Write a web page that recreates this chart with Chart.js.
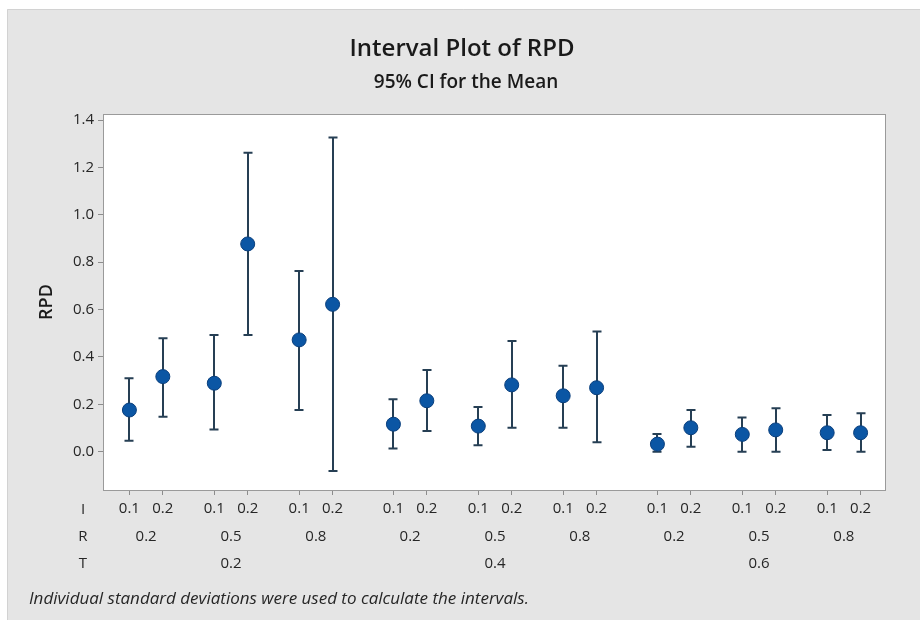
<!DOCTYPE html>
<html>
<head>
<meta charset="utf-8">
<script src="https://cdn.jsdelivr.net/npm/chart.js@4"></script>
<style>
  body { margin: 0; background: #fff; }
  canvas { display: block; }
</style>
</head>
<body>
<canvas id="chart" width="920" height="620"></canvas>
<script>
// factor levels
const tLevels = ['0.2', '0.4', '0.6'];
const rLevels = ['0.2', '0.5', '0.8'];
const iLevels = ['0.1', '0.2'];

// RPD means and 95% CI bounds, in T / R / I order
const means = [0.176, 0.317, 0.289, 0.877, 0.472, 0.622,
               0.116, 0.215, 0.108, 0.282, 0.236, 0.270,
               0.032, 0.101, 0.073, 0.092, 0.080, 0.080];
const lower = [0.046, 0.148, 0.094, 0.493, 0.176, -0.081,
               0.014, 0.087, 0.027, 0.101, 0.101, 0.040,
               0.000, 0.021, 0.000, 0.000, 0.007, 0.000];
const upper = [0.310, 0.479, 0.493, 1.262, 0.763, 1.326,
               0.221, 0.345, 0.189, 0.467, 0.363, 0.507,
               0.075, 0.176, 0.144, 0.183, 0.155, 0.162];

const yTicks = [0, 0.2, 0.4, 0.6, 0.8, 1.0, 1.2, 1.4];

// spacing of the nested groups on the x axis
const GROUP_STEP = 7.9;
const PAIR_STEP = 2.54;
const xPos = [];
tLevels.forEach((t, g) => rLevels.forEach((r, j) => iLevels.forEach((i, k) => {
  xPos.push(g * GROUP_STEP + j * PAIR_STEP + k);
})));

const FONT = '"Open Sans", "Noto Sans", sans-serif';
const TEXT = '#262626';

const frame = {
  id: 'frame',
  beforeDraw(chart) {
    const { ctx, chartArea: a } = chart;
    ctx.save();
    ctx.fillStyle = '#ffffff';
    ctx.fillRect(0, 0, chart.width, chart.height);
    ctx.fillStyle = '#e5e5e5';
    ctx.fillRect(7, 9, chart.width - 7, chart.height - 9);
    ctx.strokeStyle = '#d2d2d2';
    ctx.lineWidth = 1;
    ctx.beginPath();
    ctx.moveTo(7.5, chart.height);
    ctx.lineTo(7.5, 9.5);
    ctx.lineTo(chart.width, 9.5);
    ctx.stroke();
    ctx.fillStyle = '#ffffff';
    ctx.fillRect(a.left, a.top, a.right - a.left, a.bottom - a.top);
    ctx.restore();
  },
  afterDraw(chart) {
    const { ctx, chartArea: a } = chart;
    const x = chart.scales.x;
    ctx.save();
    ctx.strokeStyle = '#9a9a9a';
    ctx.lineWidth = 1;
    ctx.strokeRect(a.left + 0.5, a.top + 0.5, a.right - a.left - 1, a.bottom - a.top);

    ctx.fillStyle = '#1a1a1a';
    ctx.textAlign = 'center';
    ctx.textBaseline = 'middle';
    ctx.font = '600 24px ' + FONT;
    ctx.fillText('Interval Plot of RPD', 462, 49);
    ctx.font = '600 19px ' + FONT;
    ctx.fillText('95% CI for the Mean', 466, 83);

    ctx.save();
    ctx.translate(47, (a.top + a.bottom) / 2);
    ctx.rotate(-Math.PI / 2);
    ctx.font = '600 18px ' + FONT;
    ctx.fillText('RPD', 0, 0);
    ctx.restore();

    ctx.fillStyle = TEXT;
    ctx.font = '500 15px ' + FONT;
    ctx.fillText('I', 83, 510);
    ctx.fillText('R', 83, 537);
    ctx.fillText('T', 83, 564);
    tLevels.forEach((t, g) => {
      rLevels.forEach((r, j) => {
        const mid = g * GROUP_STEP + j * PAIR_STEP + 0.5;
        ctx.fillText(r, x.getPixelForValue(mid), 537);
      });
      ctx.fillText(t, x.getPixelForValue(g * GROUP_STEP + PAIR_STEP + 0.5), 564);
    });

    ctx.textAlign = 'left';
    ctx.font = 'italic 17px ' + FONT;
    ctx.fillText('Individual standard deviations were used to calculate the intervals.', 29, 599);
    ctx.restore();
  }
};

const errorBars = {
  id: 'errorBars',
  beforeDatasetsDraw(chart) {
    const { ctx } = chart;
    const x = chart.scales.x, y = chart.scales.y;
    ctx.save();
    ctx.strokeStyle = '#263f54';
    ctx.lineWidth = 2;
    xPos.forEach((v, k) => {
      const px = Math.round(x.getPixelForValue(v));
      const lo = y.getPixelForValue(lower[k]);
      const hi = y.getPixelForValue(upper[k]);
      ctx.beginPath();
      ctx.moveTo(px, lo);
      ctx.lineTo(px, hi);
      ctx.moveTo(px - 4.5, lo);
      ctx.lineTo(px + 4.5, lo);
      ctx.moveTo(px - 4.5, hi);
      ctx.lineTo(px + 4.5, hi);
      ctx.stroke();
    });
    ctx.restore();
  }
};

new Chart(document.getElementById('chart'), {
  type: 'scatter',
  data: {
    datasets: [{
      label: 'RPD',
      data: means.map((m, k) => ({ x: xPos[k], y: m })),
      pointRadius: 7,
      pointHoverRadius: 7,
      backgroundColor: '#0b56a4',
      borderColor: '#0a3f7d',
      borderWidth: 1
    }]
  },
  options: {
    responsive: false,
    animation: false,
    events: [],
    layout: { padding: { left: 0, right: 34, top: 114, bottom: 0 } },
    plugins: { legend: { display: false }, tooltip: { enabled: false } },
    scales: {
      x: {
        type: 'linear',
        min: -0.79,
        max: 22.64,
        afterFit: s => { s.height = 130; },
        afterBuildTicks: s => { s.ticks = xPos.map(v => ({ value: v })); },
        ticks: {
          autoSkip: false,
          maxRotation: 0,
          padding: 5,
          color: TEXT,
          font: { family: FONT, size: 15, weight: '500' },
          callback: (v, idx) => iLevels[idx % iLevels.length]
        },
        grid: { drawOnChartArea: false, tickLength: 5, color: '#8c8c8c' },
        border: { display: false }
      },
      y: {
        min: -0.1617,
        max: 1.4255,
        afterFit: s => { s.width = 103; },
        afterBuildTicks: s => { s.ticks = yTicks.map(v => ({ value: v })); },
        ticks: {
          padding: 4,
          color: TEXT,
          font: { family: FONT, size: 15, weight: '500' },
          callback: v => v.toFixed(1)
        },
        grid: { drawOnChartArea: false, tickLength: 5, color: '#8c8c8c' },
        border: { display: false }
      }
    }
  },
  plugins: [frame, errorBars]
});
</script>
</body>
</html>
